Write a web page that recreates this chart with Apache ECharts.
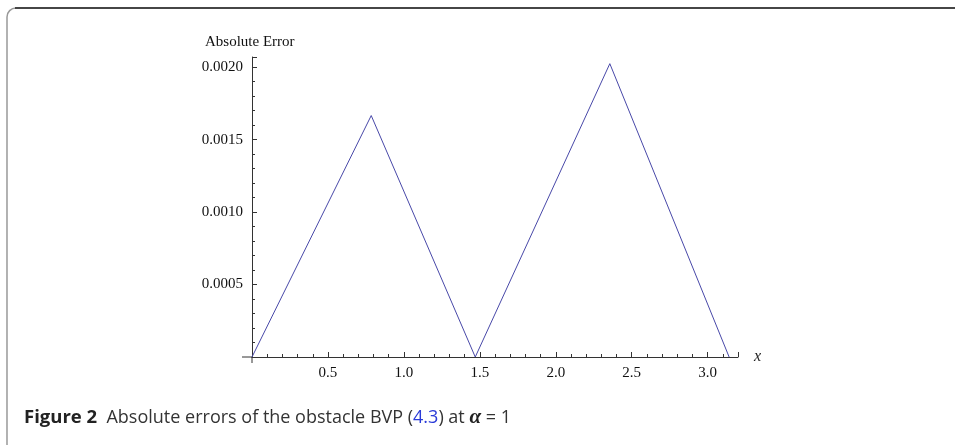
<!DOCTYPE html>
<html>
<head>
<meta charset="utf-8">
<script src="https://cdn.jsdelivr.net/npm/echarts@6/dist/echarts.min.js"></script>
<style>
  html, body { margin: 0; padding: 0; background: #fff; }
  #chart { width: 955px; height: 445px; }
</style>
</head>
<body>
<div id="chart"></div>
<script>
// absolute error curve
var xValues = [0, 0.785, 1.47, 2.356, 3.1416];
var errValues = [0, 0.001666, 0, 0.002024, 0];

var xTicks = { min: 0, max: 3.2, interval: 0.5 };
var yTicks = { min: 0, max: 0.00207, interval: 0.0005 };

var points = [];
for (var i = 0; i < xValues.length; i++) {
    points.push([xValues[i], errValues[i]]);
}

var serif = '"Liberation Serif", "Times New Roman", serif';
var sans = '"Open Sans", "Noto Sans", sans-serif';
var axisColor = '#333';

var myChart = echarts.init(document.getElementById('chart'));

var option = {
    animation: false,
    backgroundColor: '#fff',
    grid: {
        left: 252,
        top: 57,
        width: 486,
        height: 300
    },
    xAxis: {
        type: 'value',
        min: xTicks.min,
        max: xTicks.max,
        interval: xTicks.interval,
        name: 'x',
        nameLocation: 'end',
        nameGap: 16,
        nameTextStyle: {
            fontFamily: serif,
            fontStyle: 'italic',
            fontSize: 16,
            color: '#222',
            verticalAlign: 'middle'
        },
        axisLine: { show: true, onZero: false, lineStyle: { color: axisColor, width: 1 } },
        axisTick: { show: true, inside: true, length: 5, lineStyle: { color: axisColor } },
        minorTick: { show: true, splitNumber: 5, length: 3, lineStyle: { color: axisColor } },
        splitLine: { show: false },
        axisLabel: {
            showMinLabel: false,
            showMaxLabel: false,
            margin: 9,
            fontFamily: serif,
            fontSize: 15,
            color: '#111',
            formatter: function (v) { return v.toFixed(1); }
        }
    },
    yAxis: {
        type: 'value',
        min: yTicks.min,
        max: yTicks.max,
        interval: yTicks.interval,
        name: 'Absolute Error',
        nameLocation: 'end',
        nameGap: 15,
        nameTextStyle: {
            fontFamily: serif,
            fontSize: 15,
            color: '#111',
            align: 'left',
            verticalAlign: 'middle',
            padding: [0, 0, 0, -47]
        },
        axisLine: { show: true, onZero: false, lineStyle: { color: axisColor, width: 1 } },
        axisTick: { show: true, inside: true, length: 5, lineStyle: { color: axisColor } },
        minorTick: { show: true, splitNumber: 5, length: 3, lineStyle: { color: axisColor } },
        splitLine: { show: false },
        axisLabel: {
            showMinLabel: false,
            showMaxLabel: false,
            margin: 9,
            fontFamily: serif,
            fontSize: 15,
            color: '#111',
            formatter: function (v) { return v.toFixed(4); }
        }
    },
    series: [{
        type: 'line',
        data: points,
        showSymbol: false,
        lineStyle: { color: '#4848a8', width: 1 },
        itemStyle: { color: '#4848a8' }
    }],
    graphic: [
        {
            id: 'frame',
            type: 'rect',
            silent: true,
            shape: { x: 7, y: 8, width: 1000, height: 445, r: 9 },
            style: { fill: 'none', stroke: '#999', lineWidth: 1.5 }
        },
        {
            id: 'topRule',
            type: 'line',
            silent: true,
            shape: { x1: 15, y1: 8, x2: 955, y2: 8 },
            style: { stroke: '#222', lineWidth: 1.5 }
        },
        {
            id: 'caption',
            type: 'text',
            left: 24,
            top: 407,
            style: {
                text: '{b|Figure 2}  Absolute errors of the obstacle BVP ({l|4.3}) at {a|α} = 1',
                fontFamily: sans,
                fontSize: 18,
                fill: '#333',
                rich: {
                    b: { fontFamily: sans, fontSize: 18.5, fontWeight: 'bold', fill: '#222' },
                    l: { fontFamily: sans, fontSize: 18, fill: '#2a3bd8' },
                    a: { fontFamily: serif, fontSize: 21, fontWeight: 'bold', fontStyle: 'italic', fill: '#222' }
                }
            }
        }
    ]
};

myChart.setOption(option);

// the axes cross a little past the origin, as in the original plot
var origin = myChart.convertToPixel({ gridIndex: 0 }, [0, 0]);
myChart.setOption({
    graphic: [
        {
            id: 'xStub',
            type: 'line',
            silent: true,
            shape: { x1: origin[0] - 10, y1: origin[1], x2: origin[0], y2: origin[1] },
            style: { stroke: axisColor, lineWidth: 1 }
        },
        {
            id: 'yStub',
            type: 'line',
            silent: true,
            shape: { x1: origin[0], y1: origin[1], x2: origin[0], y2: origin[1] + 6 },
            style: { stroke: axisColor, lineWidth: 1 }
        }
    ]
});
</script>
</body>
</html>
